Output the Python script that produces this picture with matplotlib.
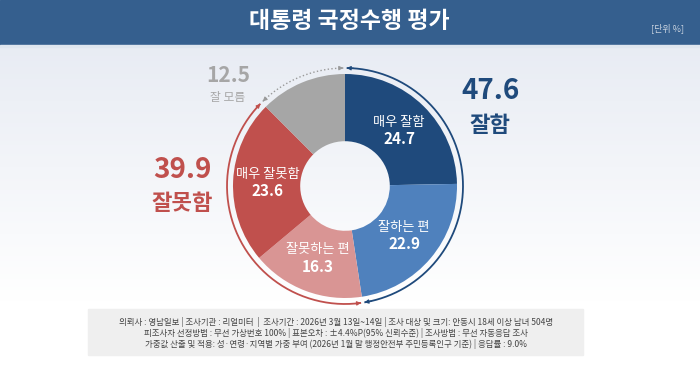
import numpy as np
import matplotlib
matplotlib.use("Agg")
import matplotlib.pyplot as plt
from matplotlib.patches import Rectangle

plt.rcParams['font.family'] = ['Noto Sans CJK KR', 'DejaVu Sans']

# ---- data ----
categories = ['매우 잘함', '잘하는 편', '잘못하는 편', '매우 잘못함', '잘 모름']
values = [24.7, 22.9, 16.3, 23.6, 12.5]
show_inner = [True, True, True, True, False]
colors = ['#1f4a7c', '#4f81bd', '#d99594', '#c0504d', '#a6a6a6']
group_labels = ['잘함', '잘못함', '잘 모름']
group_values = [47.6, 39.9, 12.5]
title = '대통령 국정수행 평가'
unit = '[단위 %]'
footer_lines = [
    '의뢰사 : 영남일보 | 조사기관 : 리얼미터  |  조사기간 : 2026년 3월 13일~14일 | 조사 대상 및 크기: 안동시 18세 이상 남녀 504명',
    '피조사자 선정방법 : 무선 가상번호 100% | 표본오차 : ±4.4%P(95% 신뢰수준) | 조사방법 : 무선 자동응답 조사',
    '가중값 산출 및 적용: 성·연령·지역별 가중 부여 (2026년 1월 말 행정안전부 주민등록인구 기준) | 응답률 : 9.0%',
]

W, H = 700, 365
fig = plt.figure(figsize=(7, 3.65), dpi=100)
ax = fig.add_axes([0, 0, 1, 1])

def Y(y):
    return H - y

# background gradient
grad = np.linspace(0, 1, 256).reshape(-1, 1)
top = np.array([0.91, 0.925, 0.955])
bot = np.array([1.0, 1.0, 1.0])
t = np.clip(grad * 1.25, 0, 1)
img = top * (1 - t) + bot * t
ax.imshow(img[:, None, :].repeat(2, axis=1), extent=[0, W, 0, Y(45)], origin='upper',
          aspect='auto', zorder=0)

# title bar
ax.add_patch(Rectangle((0, Y(45)), W, 45, color='#355f8e', zorder=1))
ax.add_patch(Rectangle((0, Y(47)), W, 2, color='#dfe6ef', zorder=1))
ax.text(349, Y(22), title, ha='center', va='center', color='white', fontsize=16.5,
        fontweight='bold', zorder=2)
ax.text(684, Y(28), unit, ha='right', va='center', color='#c9d3e0', fontsize=6.5, zorder=2)

# donut
cx, cy, R = 345, Y(186), 112
wedges, _ = ax.pie(values, colors=colors, startangle=90, counterclock=False,
                   center=(cx, cy), radius=R, wedgeprops=dict(width=R * 0.6, linewidth=0),
                   frame=True)
ax.set_xlim(0, W)
ax.set_ylim(0, H)
ax.set_aspect('equal')
ax.axis('off')

# inner labels
lab_r = R * 0.69
cum = np.cumsum([0] + values)
for i, (c, v) in enumerate(zip(categories, values)):
    if not show_inner[i]:
        continue
    mid = 90 - 360 * (cum[i] + v / 2) / 100
    a = np.deg2rad(mid)
    x = cx + lab_r * np.cos(a)
    y = cy + lab_r * np.sin(a)
    ax.text(x, y + 8.5, c, ha='center', va='center', color='white', fontsize=9.5, zorder=5)
    ax.text(x, y - 8.5, f'{v}', ha='center', va='center', color='white', fontsize=11,
            fontweight='bold', zorder=5)

# outer arcs
Ra = 118
gcum = np.cumsum([0] + group_values)
arc_colors = ['#1f4a7c', '#c0504d', '#9a9a9a']
styles = ['-', '-', ':']
for i, gv in enumerate(group_values):
    a0 = 90 - 360 * gcum[i] / 100 - 0.8
    a1 = 90 - 360 * gcum[i + 1] / 100 + 0.8
    th = np.deg2rad(np.linspace(a0, a1, 200))
    xs = cx + Ra * np.cos(th)
    ys = cy + Ra * np.sin(th)
    ax.plot(xs, ys, color=arc_colors[i], lw=1.3 if i < 2 else 1.0, ls=styles[i], zorder=4,
            solid_capstyle='butt')
    for (xe, ye, xp, yp) in [(xs[0], ys[0], xs[4], ys[4]), (xs[-1], ys[-1], xs[-5], ys[-5])]:
        ax.annotate('', xy=(xe, ye), xytext=(xp, yp),
                    arrowprops=dict(arrowstyle='-|>', color=arc_colors[i], lw=0.8,
                                    mutation_scale=6, shrinkA=0, shrinkB=0), zorder=4)

# group labels
ax.text(490, Y(91), f'{group_values[0]}', ha='center', va='center', color='#1f4a7c',
        fontsize=20, fontweight='bold')
ax.text(490, Y(126), group_labels[0], ha='center', va='center', color='#1f4a7c',
        fontsize=16, fontweight='bold')
ax.text(182, Y(170), f'{group_values[1]}', ha='center', va='center', color='#c0504d',
        fontsize=20, fontweight='bold')
ax.text(182, Y(203), group_labels[1], ha='center', va='center', color='#c0504d',
        fontsize=16, fontweight='bold')
ax.text(228, Y(75), f'{group_values[2]}', ha='center', va='center', color='#a6a6a6',
        fontsize=15, fontweight='bold')
ax.text(228, Y(98), group_labels[2], ha='center', va='center',
        color='#a6a6a6', fontsize=8.5)

# footer box
ax.add_patch(Rectangle((88, Y(355)), 495, 46, color='#efefef', zorder=1))
for k, line in enumerate(footer_lines):
    ax.text(336, Y(322 + 11 * k), line, ha='center', va='center', color='#444444',
            fontsize=6.1, zorder=2)

fig.savefig('out.png', dpi=100)
